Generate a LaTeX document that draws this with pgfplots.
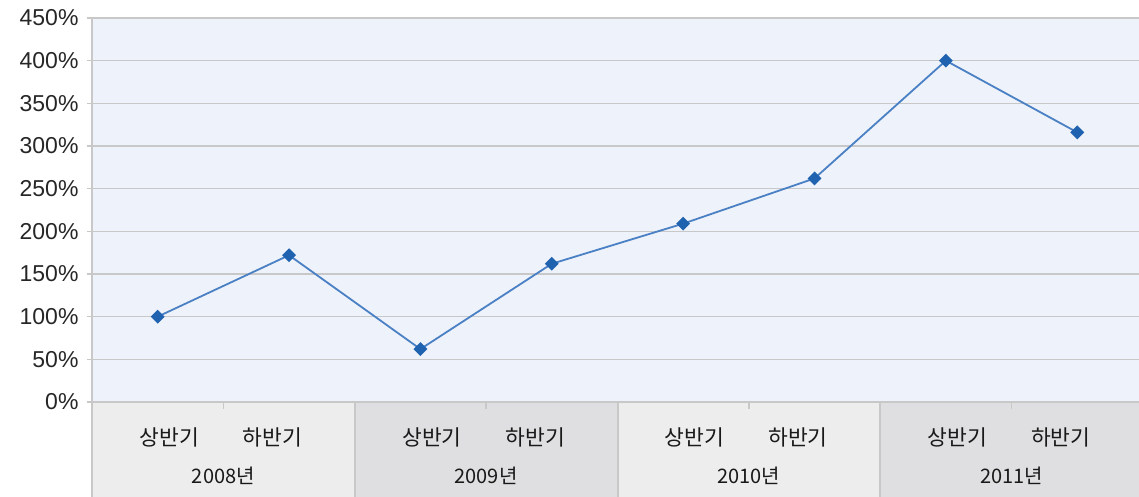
\documentclass[border=0pt]{standalone}
\usepackage{fontspec}
\setmainfont{Liberation Sans}
\newfontfamily\kr{Noto Sans CJK KR}
\usepackage{pgfplots}
\pgfplotsset{compat=1.18}
\definecolor{bgblue}{HTML}{EEF2FA}
\definecolor{gridc}{HTML}{C8C8C8}
\definecolor{boxA}{HTML}{EDEDED}
\definecolor{boxB}{HTML}{DFDFE1}
\definecolor{linec}{HTML}{4A80C4}
\definecolor{markc}{HTML}{1F62B0}
\newcommand{\up}{\hspace*{23pt}상반기}
\newcommand{\dn}{하반기\hspace*{33pt}}
\begin{document}
\begin{tikzpicture}[x=1pt,y=1pt]
\useasboundingbox (0,0) rectangle (1139,497);
% category band below the plot area
\fill[boxA] (92,0) rectangle (354.75,95);
\fill[boxB] (354.75,0) rectangle (617.5,95);
\fill[boxA] (617.5,0) rectangle (880.25,95);
\fill[boxB] (880.25,0) rectangle (1143,95);
\draw[gridc, line width=1.6pt] (92,0) -- (92,95);
\draw[gridc, line width=2pt] (354.75,0) -- (354.75,95);
\draw[gridc, line width=2pt] (617.5,0) -- (617.5,95);
\draw[gridc, line width=2pt] (880.25,0) -- (880.25,95);
\begin{axis}[
  at={(92pt,95pt)}, anchor=south west,
  scale only axis, width=1051pt, height=384pt,
  xmin=-0.5, xmax=7.5, ymin=0, ymax=450,
  clip=false,
  axis line style={draw=none},
  axis background/.style={fill=bgblue},
  ymajorgrids, grid style={gridc, line width=1.6pt},
  ytick={0,50,...,450},
  ytick pos=left,
  xtick pos=bottom,
  tick align=outside,
  major tick length=5pt,
  ytick style={gridc, line width=1.6pt},
  yticklabel={\pgfmathprintnumber{\tick}\%},
  yticklabel style={font=\fontsize{23}{27}\selectfont, text=black!85, xshift=-5pt, /pgf/number format/assume math mode=true},
  xtick={0,...,7},
  xticklabels={\up,\dn,\up,\dn,\up,\dn,\up,\dn},
  xtick style={draw=none},
  xticklabel style={font=\kr\fontsize{21.5}{25}\selectfont, text=black!90, anchor=center, yshift=-30pt},
  extra x ticks={0.5,2.5,4.5,6.5},
  extra x tick labels={2008년,2009년,2010년,2011년},
  extra x tick style={xtick style={draw=gridc, line width=1.5pt}, major tick length=7pt, xticklabel style={font=\kr\fontsize{20}{24}\selectfont, yshift=-37pt}},
]
\draw[gridc, line width=1.6pt] (axis cs:-0.5,0) -- (axis cs:-0.5,450);
\addplot[linec, line width=1.8pt, mark=square*, mark size=4pt, mark options={markc, fill=markc, rotate=45, solid}]
  coordinates {(0,100) (1,172) (2,62) (3,162) (4,209) (5,262) (6,400) (7,316)};
\end{axis}
\end{tikzpicture}
\end{document}
